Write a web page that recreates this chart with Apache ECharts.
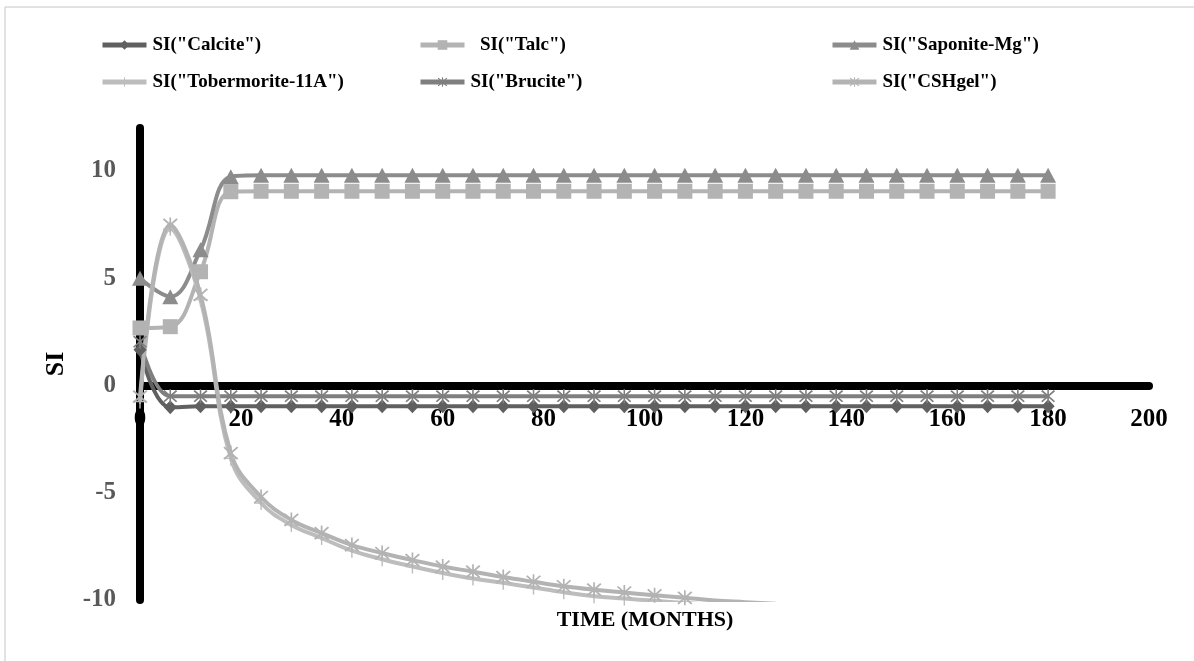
<!DOCTYPE html>
<html>
<head>
<meta charset="utf-8">
<script src="https://cdn.jsdelivr.net/npm/echarts@6/dist/echarts.min.js"></script>
<style>
html,body{margin:0;padding:0;background:#fff;}
#chart{width:1194px;height:661px;}
</style>
</head>
<body>
<div id="chart"></div>
<script>
// ---- Data ----
var months = [0,6,12,18,24,30,36,42,48,54,60,66,72,78,84,90,96,102,108,114,120,126,132,138,144,150,156,162,168,174,180];
var calcite = [1.67,-1.02,-0.97,-0.97,-0.97,-0.97,-0.97,-0.97,-0.97,-0.97,-0.97,-0.97,-0.97,-0.97,-0.97,-0.97,-0.97,-0.97,-0.97,-0.97,-0.97,-0.97,-0.97,-0.97,-0.97,-0.97,-0.97,-0.97,-0.97,-0.97,-0.97];
var talc = [2.68,2.74,5.3,9.03,9.05,9.05,9.05,9.05,9.05,9.05,9.05,9.05,9.05,9.05,9.05,9.05,9.05,9.05,9.05,9.05,9.05,9.05,9.05,9.05,9.05,9.05,9.05,9.05,9.05,9.05,9.05];
var saponite = [5.0,4.14,6.32,9.73,9.8,9.8,9.8,9.8,9.8,9.8,9.8,9.8,9.8,9.8,9.8,9.8,9.8,9.8,9.8,9.8,9.8,9.8,9.8,9.8,9.8,9.8,9.8,9.8,9.8,9.8,9.8];
var tobermorite = [-0.75,7.3,4.0,-3.4,-5.48,-6.5,-7.11,-7.7,-8.1,-8.44,-8.74,-9.0,-9.2,-9.42,-9.64,-9.82,-9.93,-10.04,-10.14,-10.23,-10.31,-10.39,-10.46,-10.53,-10.59,-10.65,-10.71,-10.76,-10.81,-10.86,-10.9];
var brucite = [2.04,-0.5,-0.5,-0.5,-0.5,-0.5,-0.5,-0.5,-0.5,-0.5,-0.5,-0.5,-0.5,-0.5,-0.5,-0.5,-0.5,-0.5,-0.5,-0.5,-0.5,-0.5,-0.5,-0.5,-0.5,-0.5,-0.5,-0.5,-0.5,-0.5,-0.5];
var cshgel = [-0.52,7.48,4.22,-3.15,-5.2,-6.27,-6.88,-7.44,-7.81,-8.14,-8.44,-8.68,-8.93,-9.15,-9.36,-9.52,-9.65,-9.78,-9.9,-10.02,-10.1,-10.18,-10.25,-10.32,-10.38,-10.44,-10.5,-10.55,-10.6,-10.65,-10.7];
var seriesNames = ['SI("Calcite")','  SI("Talc")','SI("Saponite-Mg")','SI("Tobermorite-11A")','SI("Brucite")','SI("CSHgel")'];
var xTicks = [0,20,40,60,80,100,120,140,160,180,200];
var yTicks = [-10,-5,0,5,10];
var xTitle = 'TIME (MONTHS)';
var yTitle = 'SI';

// ---- Styling ----
var FONT = '"Liberation Serif","Times New Roman",serif';
var ASTERISK = 'path://M9,0 L11,0 L11,20 L9,20 Z M1.2,2.8 L2.8,1.2 L18.8,17.2 L17.2,18.8 Z M17.2,1.2 L18.8,2.8 L2.8,18.8 L1.2,17.2 Z';
var PLUS = 'path://M9,0 L11,0 L11,20 L9,20 Z M0,9 L20,9 L20,11 L0,11 Z';

function pairs(ys){ return months.map(function(m,i){ return [m, ys[i]]; }); }

var defs = [
  {name: seriesNames[0], data: calcite, color: '#606060', symbol: 'diamond', size: [13,14]},
  {name: seriesNames[1], data: talc, color: '#b3b3b3', symbol: 'rect', size: 15},
  {name: seriesNames[2], data: saponite, color: '#8c8c8c', symbol: 'triangle', size: [16,15]},
  {name: seriesNames[3], data: tobermorite, color: '#bdbdbd', symbol: PLUS, size: 14},
  {name: seriesNames[4], data: brucite, color: '#7f7f7f', symbol: ASTERISK, size: 14},
  {name: seriesNames[5], data: cshgel, color: '#b3b3b3', symbol: ASTERISK, size: 15}
];

var series = defs.map(function(d){
  return {
    type: 'line', name: d.name, data: pairs(d.data),
    smooth: 0.4, clip: true,
    symbol: d.symbol, symbolSize: d.size, showSymbol: true, showAllSymbol: true,
    lineStyle: {color: d.color, width: 4},
    itemStyle: {color: d.color, borderWidth: 0},
    emphasis: {disabled: true}
  };
});

function legend(left, names){
  return {
    orient: 'vertical', left: left, top: 34, itemGap: 15, padding: 0,
    itemWidth: 44, itemHeight: 12,
    data: names, selectedMode: false,
    lineStyle: {width: 5},
    textStyle: {fontFamily: FONT, fontWeight: 'bold', fontSize: 19, color: '#000', lineHeight: 22, padding: [0,0,0,1]}
  };
}

var option = {
  animation: false,
  backgroundColor: '#fff',
  legend: [
    legend(100, [seriesNames[0], seriesNames[3]]),
    legend(418, [seriesNames[1], seriesNames[4]]),
    legend(830, [seriesNames[2], seriesNames[5]])
  ],
  grid: {left: 140, right: 45, top: 128, bottom: 61, containLabel: false},
  xAxis: {
    type: 'value', min: 0, max: 200, interval: 20,
    position: 'bottom', offset: -214.5,
    axisLine: {show: true, onZero: false, lineStyle: {color: '#000', width: 8}},
    axisTick: {show: false},
    splitLine: {show: false},
    axisLabel: {
      margin: 22, color: '#000', fontFamily: FONT, fontWeight: 'bold', fontSize: 25,
      formatter: function(v){ return xTicks.indexOf(v) >= 0 ? String(v) : ''; }
    }
  },
  yAxis: {
    type: 'value', min: -10, max: 12, interval: 5,
    axisLine: {show: true, lineStyle: {color: '#000', width: 8}},
    axisTick: {show: false},
    splitLine: {show: false},
    axisLabel: {
      margin: 24, color: '#595959', fontFamily: FONT, fontWeight: 'bold', fontSize: 25,
      formatter: function(v){ return yTicks.indexOf(v) >= 0 ? String(v) : ''; }
    }
  },
  graphic: [
    {type: 'line', z: -10, silent: true, shape: {x1: 5, y1: 7, x2: 1194, y2: 7},
     style: {stroke: '#d9d9d9', lineWidth: 1.5}},
    {type: 'line', z: -10, silent: true, shape: {x1: 5, y1: 7, x2: 5, y2: 661},
     style: {stroke: '#d9d9d9', lineWidth: 1.5}},
    {type: 'text', x: 56, y: 364, rotation: Math.PI/2, silent: true,
     style: {text: yTitle, font: 'bold 26px ' + FONT, fill: '#000', textAlign: 'center', textVerticalAlign: 'middle'}},
    {type: 'text', x: 645, y: 620, silent: true,
     style: {text: xTitle, font: 'bold 22px ' + FONT, fill: '#000', textAlign: 'center', textVerticalAlign: 'middle'}}
  ],
  series: series
};

var chart = echarts.init(document.getElementById('chart'), null, {renderer: 'canvas'});
chart.setOption(option);
</script>
</body>
</html>
